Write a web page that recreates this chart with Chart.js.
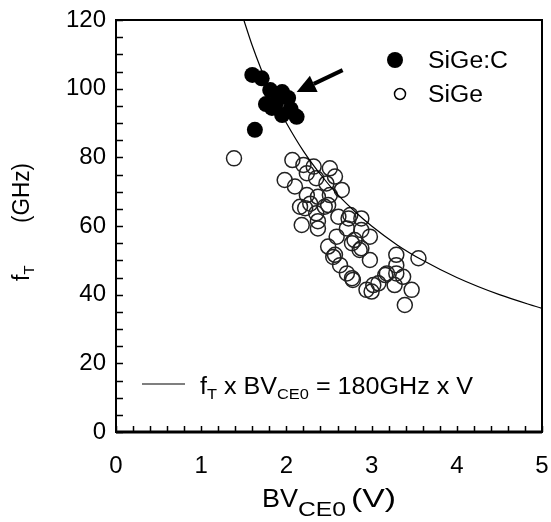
<!DOCTYPE html>
<html>
<head>
<meta charset="utf-8">
<script src="https://cdn.jsdelivr.net/npm/chart.js@4/dist/chart.umd.min.js"></script>
<style>
  html, body { margin: 0; padding: 0; background: #fff; }
  #wrap { width: 551px; height: 522px; position: relative; }
</style>
</head>
<body>
<div id="wrap"><canvas id="c" width="551" height="522"></canvas></div>
<script>
// ---- data ----
const sigecBV = [1.60, 1.71, 1.81, 1.95, 2.02, 1.88, 1.83, 1.95, 2.12, 1.63, 1.76, 2.05];
const sigecFT = [104.0, 103.0, 99.6, 99.0, 97.3, 96.0, 94.4, 92.3, 91.8, 88.0, 95.5, 94.0];

const sigeBV = [1.385, 2.07, 2.20, 2.32, 2.51, 2.57, 1.98, 2.10, 2.24, 2.35, 2.47, 2.65,
                2.24, 2.37, 2.51, 2.22, 2.35, 2.49, 2.61, 2.75, 2.88, 2.18, 2.37, 2.59,
                2.71, 2.88, 2.80, 2.98, 2.49, 2.88, 2.55, 2.98, 2.63, 2.71, 2.78, 3.00,
                3.08, 3.18, 3.29, 3.29, 3.29, 3.27, 3.37, 3.47, 3.39, 3.55, 2.16,
                2.37, 2.57, 2.77, 2.86, 2.94, 2.28, 2.45, 2.73, 2.77, 3.16, 3.02];
const sigeFT = [79.7, 79.2, 77.8, 77.3, 76.8, 74.4, 73.4, 71.5, 75.4, 73.9, 72.4, 70.5,
                69.0, 68.5, 69.0, 65.2, 63.7, 66.1, 62.7, 63.2, 62.2, 60.3, 59.3, 56.9,
                59.3, 58.8, 55.9, 56.9, 54.0, 53.5, 51.0, 50.1, 48.6, 46.2, 44.3, 40.9,
                43.3, 46.2, 51.6, 48.6, 46.2, 42.8, 45.2, 41.4, 37.0, 50.6, 65.6,
                61.4, 51.6, 44.8, 53.0, 41.4, 66.5, 65.6, 62.2, 55.0, 45.7, 42.8];

// curve fT x BVCE0 = 180 GHz x V
const curveBV = [1.5, 1.6, 1.7, 1.8, 1.9, 2.0, 2.2, 2.4, 2.6, 2.8, 3.0, 3.3, 3.6, 4.0, 4.5, 5.0];
const curveFT = [120, 112.5, 105.9, 100, 94.7, 90, 81.8, 75, 69.2, 64.3, 60, 54.5, 50, 45, 40, 36];

const xTickLabels = [0, 1, 2, 3, 4, 5];
const yTickLabels = [0, 20, 40, 60, 80, 100, 120];

// arrow annotation (data coordinates)
const arrowFrom = { x: 2.66, y: 105.4 };
const arrowTo   = { x: 2.12, y: 99.0 };

const FONT = '"Liberation Sans", Arial, Helvetica, sans-serif';

function zip(a, b) { return a.map((v, i) => ({ x: v, y: b[i] })); }

// draw a sequence of text pieces; piece: {t, size, dy, w (target width), gap}
// totalW: scale the whole run uniformly to that width
function drawPieces(ctx, pieces, x, y, totalW) {
  const nats = pieces.map(p => { ctx.font = p.size + 'px ' + FONT; return ctx.measureText(p.t).width; });
  let k = 1;
  if (totalW) {
    const sum = nats.reduce((s, v, i) => s + v + (pieces[i].gap || 0), 0);
    k = totalW / sum;
  }
  let cx = x;
  pieces.forEach((p, i) => {
    ctx.font = p.size + 'px ' + FONT;
    const nat = nats[i];
    const w = p.w || nat * k;
    ctx.save();
    ctx.translate(cx, y + (p.dy || 0));
    ctx.scale(w / nat, 1);
    ctx.fillText(p.t, 0, 0);
    ctx.restore();
    cx += w + (p.gap || 0) * k;
  });
}

const decor = {
  id: 'decor',
  afterDatasetsDraw(chart) {
    const ctx = chart.ctx;
    const a = chart.chartArea;
    const xs = chart.scales.x, ys = chart.scales.y;
    ctx.save();
    ctx.strokeStyle = '#000';
    ctx.fillStyle = '#000';
    // inward ticks
    ctx.lineWidth = 1.5;
    ctx.beginPath();
    xs.ticks.forEach(t => {
      const px = Math.round(xs.getPixelForValue(t.value)) + 0.5;
      ctx.moveTo(px, a.bottom); ctx.lineTo(px, a.bottom - 6);
    });
    ys.ticks.forEach(t => {
      const py = Math.round(ys.getPixelForValue(t.value)) + 0.5;
      ctx.moveTo(a.left, py); ctx.lineTo(a.left + 7, py);
    });
    ctx.stroke();
    // frame
    ctx.lineWidth = 2;
    ctx.strokeRect(a.left, a.top, a.right - a.left, a.bottom - a.top);
    ctx.lineWidth = 3;
    ctx.beginPath(); ctx.moveTo(a.left, a.bottom); ctx.lineTo(a.right, a.bottom); ctx.stroke();

    // arrow
    const x1 = xs.getPixelForValue(arrowFrom.x), y1 = ys.getPixelForValue(arrowFrom.y);
    const x2 = xs.getPixelForValue(arrowTo.x),   y2 = ys.getPixelForValue(arrowTo.y);
    const ang = Math.atan2(y2 - y1, x2 - x1);
    const headLen = 19, headW = 9;
    const bx = x2 - headLen * Math.cos(ang), by = y2 - headLen * Math.sin(ang);
    ctx.lineWidth = 4;
    ctx.beginPath(); ctx.moveTo(x1, y1); ctx.lineTo(bx, by); ctx.stroke();
    ctx.beginPath();
    ctx.moveTo(x2, y2);
    ctx.lineTo(bx + headW * Math.sin(ang), by - headW * Math.cos(ang));
    ctx.lineTo(bx - headW * Math.sin(ang), by + headW * Math.cos(ang));
    ctx.closePath(); ctx.fill();

    // legend (top right)
    ctx.beginPath(); ctx.arc(395, 60, 8, 0, Math.PI * 2); ctx.fill();
    ctx.lineWidth = 1.5;
    ctx.beginPath(); ctx.arc(400, 94, 5.5, 0, Math.PI * 2); ctx.stroke();
    ctx.textBaseline = 'alphabetic';
    drawPieces(ctx, [{ t: 'SiGe:C', size: 23, w: 80 }], 428, 68);
    drawPieces(ctx, [{ t: 'SiGe', size: 23, w: 55 }], 428, 102);

    // legend (bottom): curve
    ctx.lineWidth = 1.2;
    ctx.beginPath(); ctx.moveTo(142, 384); ctx.lineTo(185, 384); ctx.stroke();
    drawPieces(ctx, [
      { t: 'f', size: 23 },
      { t: 'T', size: 15, dy: 5 },
      { t: ' x BV', size: 23 },
      { t: 'CE0', size: 15, dy: 5 },
      { t: ' = 180GHz x V', size: 23 }
    ], 200, 394, 273);

    // x axis title
    drawPieces(ctx, [
      { t: 'BV', size: 26, w: 36 },
      { t: 'CE0', size: 21, dy: 9, w: 48, gap: 5 },
      { t: '(V)', size: 26, w: 45 }
    ], 262, 507);

    // y axis title (rotated)
    ctx.save();
    ctx.translate(29, 281);
    ctx.rotate(-Math.PI / 2);
    drawPieces(ctx, [
      { t: 'f', size: 23 },
      { t: 'T', size: 15, dy: 5 }
    ], 0, 0);
    drawPieces(ctx, [{ t: '(GHz)', size: 23, w: 60 }], 58, 0);
    ctx.restore();
    ctx.restore();
  }
};

new Chart(document.getElementById('c'), {
  type: 'scatter',
  data: {
    datasets: [
      {
        label: 'fT x BVCE0 = 180GHz x V',
        data: zip(curveBV, curveFT),
        showLine: true,
        borderColor: '#000',
        borderWidth: 1.2,
        pointRadius: 0,
        cubicInterpolationMode: 'monotone',
        fill: false,
        order: 0
      },
      {
        label: 'SiGe',
        data: zip(sigeBV, sigeFT),
        pointRadius: 7.5,
        pointBorderWidth: 1.5,
        pointBorderColor: '#222',
        pointBackgroundColor: 'rgba(255,255,255,0)',
        order: 2
      },
      {
        label: 'SiGe:C',
        data: zip(sigecBV, sigecFT),
        pointRadius: 8,
        pointBorderWidth: 0,
        pointBackgroundColor: '#000',
        order: 1
      }
    ]
  },
  options: {
    responsive: false,
    animation: false,
    layout: { padding: { left: 0, right: 9, top: 20, bottom: 0 } },
    plugins: { legend: { display: false }, tooltip: { enabled: false } },
    scales: {
      x: {
        type: 'linear', min: 0, max: 5,
        afterFit(s) { s.height = 90; s.paddingLeft = 0; s.paddingRight = 0; },
        grid: { display: false, drawTicks: false },
        border: { display: false },
        ticks: {
          stepSize: 0.2, autoSkip: false, maxRotation: 0, padding: 20,
          color: '#000', font: { family: FONT, size: 24 },
          callback(v) {
            const r = Math.round(v);
            return (Math.abs(v - r) < 1e-6 && xTickLabels.includes(r)) ? String(r) : '';
          }
        }
      },
      y: {
        type: 'linear', min: 0, max: 120,
        afterFit(s) { s.width = 116; s.paddingTop = 0; s.paddingBottom = 0; },
        grid: { display: false, drawTicks: false },
        border: { display: false },
        ticks: {
          stepSize: 5, autoSkip: false, padding: 10,
          color: '#000', font: { family: FONT, size: 24 },
          callback(v) { return yTickLabels.includes(v) ? String(v) : ''; }
        }
      }
    }
  },
  plugins: [decor]
});
</script>
</body>
</html>
